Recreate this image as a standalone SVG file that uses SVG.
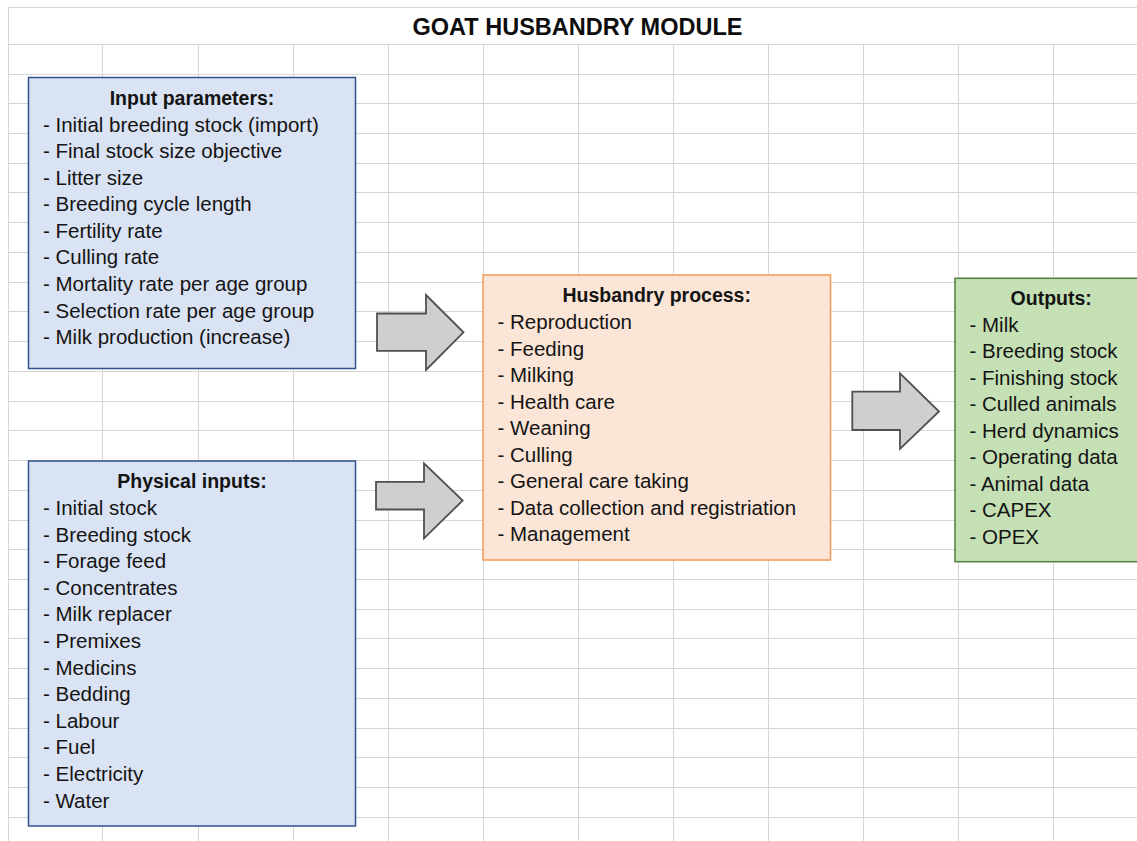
<svg xmlns="http://www.w3.org/2000/svg" width="1137" height="841" viewBox="0 0 1137 841">
<style>
.grid{stroke:#d6d6d6;stroke-width:1;fill:none}
.t{font-family:"Liberation Sans",Arial,sans-serif;font-size:20.5px;fill:#141414}
.h{font-family:"Liberation Sans",Arial,sans-serif;font-size:19.5px;font-weight:bold;fill:#141414;text-anchor:middle}
.title{font-family:"Liberation Sans",Arial,sans-serif;font-size:23.5px;font-weight:bold;fill:#0d0d0d;text-anchor:middle}
.blue{fill:#dae3f3;stroke:#2f528f;stroke-width:1.5}
.orange{fill:#fbe5d6;stroke:#f39a54;stroke-width:1.5}
.green{fill:#c5e0b4;stroke:#507d3a;stroke-width:1.5}
.arrow{fill:#d0cece;stroke:#505050;stroke-width:1.8;stroke-linejoin:miter}
</style>
<rect width="1137" height="841" fill="#ffffff"/>
<g id="grid" class="grid">
<path d="M8.5 7.5H1137 M8.5 44.5H1137 M8.5 74.5H1137 M8.5 103.5H1137 M8.5 133.5H1137 M8.5 163.5H1137 M8.5 192.5H1137 M8.5 222.5H1137 M8.5 252.5H1137 M8.5 282.5H1137 M8.5 311.5H1137 M8.5 341.5H1137 M8.5 371.5H1137 M8.5 401.5H1137 M8.5 430.5H1137 M8.5 460.5H1137 M8.5 490.5H1137 M8.5 520.5H1137 M8.5 549.5H1137 M8.5 579.5H1137 M8.5 609.5H1137 M8.5 638.5H1137 M8.5 668.5H1137 M8.5 698.5H1137 M8.5 728.5H1137 M8.5 757.5H1137 M8.5 787.5H1137 M8.5 817.5H1137"/>
<path d="M8.5 7V841 M102.5 44.5V841 M198.5 44.5V841 M293.5 44.5V841 M388.5 44.5V841 M483.5 44.5V841 M578.5 44.5V841 M673.5 44.5V841 M768.5 44.5V841 M863.5 44.5V841 M958.5 44.5V841 M1053.5 44.5V841"/>
</g>
<text class="title" x="577.5" y="35">GOAT HUSBANDRY MODULE</text>
<g id="connectors">
<polygon class="arrow" points="377,313.5 426,313.5 426,295 463.5,332.3 426,370 426,350.8 377,350.8"/>
<polygon class="arrow" points="376,481.8 424,481.8 424,463.3 462.7,500.5 424,538.3 424,509.5 376,509.5"/>
<polygon class="arrow" points="852.3,391.7 900,391.7 900,373.3 939,411.5 900,449 900,430 852.3,430"/>
</g>
<g id="input-parameters">
<rect class="blue" x="28.5" y="77.5" width="327" height="291"/>
<text class="h" x="192" y="105">Input parameters:</text>
<text class="t" x="43" y="131.7">- Initial breeding stock (import)</text>
<text class="t" x="43" y="158.2">- Final stock size objective</text>
<text class="t" x="43" y="184.8">- Litter size</text>
<text class="t" x="43" y="211.3">- Breeding cycle length</text>
<text class="t" x="43" y="237.9">- Fertility rate</text>
<text class="t" x="43" y="264.4">- Culling rate</text>
<text class="t" x="43" y="291">- Mortality rate per age group</text>
<text class="t" x="43" y="317.5">- Selection rate per age group</text>
<text class="t" x="43" y="344.1">- Milk production (increase)</text>
</g>
<g id="physical-inputs">
<rect class="blue" x="28.5" y="461" width="327" height="365"/>
<text class="h" x="192" y="488.3">Physical inputs:</text>
<text class="t" x="43" y="514.9">- Initial stock</text>
<text class="t" x="43" y="541.5">- Breeding stock</text>
<text class="t" x="43" y="568.1">- Forage feed</text>
<text class="t" x="43" y="594.7">- Concentrates</text>
<text class="t" x="43" y="621.3">- Milk replacer</text>
<text class="t" x="43" y="647.9">- Premixes</text>
<text class="t" x="43" y="674.5">- Medicins</text>
<text class="t" x="43" y="701.1">- Bedding</text>
<text class="t" x="43" y="727.7">- Labour</text>
<text class="t" x="43" y="754.3">- Fuel</text>
<text class="t" x="43" y="780.9">- Electricity</text>
<text class="t" x="43" y="807.5">- Water</text>
</g>
<g id="husbandry-process">
<rect class="orange" x="483" y="275" width="347.5" height="285"/>
<text class="h" x="656.7" y="301.7">Husbandry process:</text>
<text class="t" x="497.5" y="329">- Reproduction</text>
<text class="t" x="497.5" y="355.5">- Feeding</text>
<text class="t" x="497.5" y="382">- Milking</text>
<text class="t" x="497.5" y="408.5">- Health care</text>
<text class="t" x="497.5" y="435">- Weaning</text>
<text class="t" x="497.5" y="461.5">- Culling</text>
<text class="t" x="497.5" y="488">- General care taking</text>
<text class="t" x="497.5" y="514.5">- Data collection and registriation</text>
<text class="t" x="497.5" y="541">- Management</text>
</g>
<g id="outputs">
<rect class="green" x="955" y="278.3" width="195" height="283.4"/>
<text class="h" x="1051.2" y="305">Outputs:</text>
<text class="t" x="969.5" y="331.7">- Milk</text>
<text class="t" x="969.5" y="358.2">- Breeding stock</text>
<text class="t" x="969.5" y="384.7">- Finishing stock</text>
<text class="t" x="969.5" y="411.2">- Culled animals</text>
<text class="t" x="969.5" y="437.7">- Herd dynamics</text>
<text class="t" x="969.5" y="464.2">- Operating data</text>
<text class="t" x="969.5" y="490.7">- Animal data</text>
<text class="t" x="969.5" y="517.2">- CAPEX</text>
<text class="t" x="969.5" y="543.7">- OPEX</text>
</g>
</svg>
